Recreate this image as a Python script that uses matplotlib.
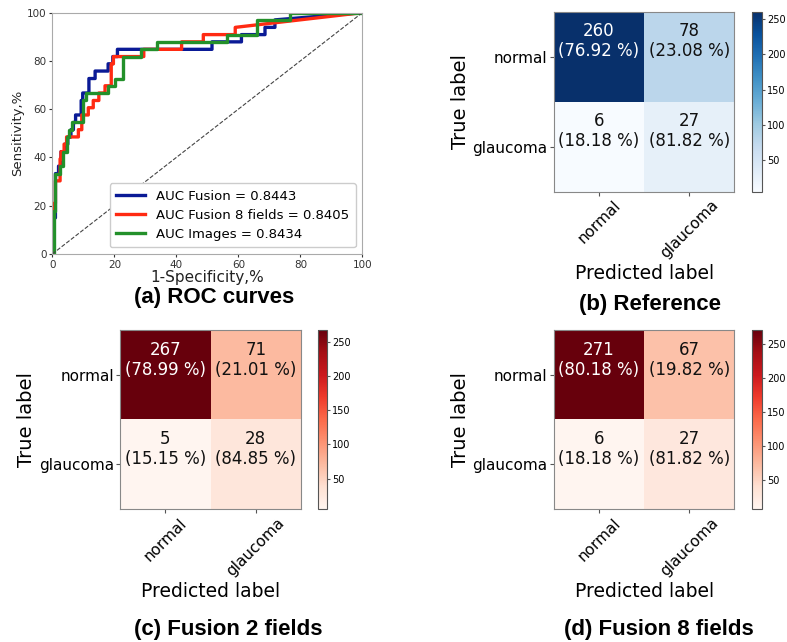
####################################################

# Load modules

import numpy as np
import matplotlib
matplotlib.use("Agg")
from matplotlib import pyplot as plt

####################################################

# ROC data, in %

fpr_fusion = [0, 0.5, 0.5, 1, 1, 2, 2, 2.8, 2.8, 4, 4, 5, 5, 6, 6, 6.8, 6.8, 7.5, 7.5,
              9.3, 9.3, 9.8, 9.8, 11.8, 11.8, 13.8, 13.8, 18, 18, 19.5, 19.5, 21, 21,
              51.5, 51.5, 61, 61, 68.6, 68.6, 71.8, 71.8, 100]
tpr_fusion = [0, 0, 15, 15, 33.3, 33.3, 36.4, 36.4, 42.4, 42.4, 45.5, 45.5, 48.5, 48.5,
              51.5, 51.5, 54.5, 54.5, 57.6, 57.6, 63.6, 63.6, 66.7, 66.7, 72.7, 72.7,
              75.8, 75.8, 78.8, 78.8, 81.8, 81.8, 84.8, 84.8, 87.9, 87.9, 90.9, 90.9,
              93.9, 93.9, 97.0, 100]

fpr_fusion8 = [0, 0.3, 0.3, 0.6, 0.6, 1, 1, 2.5, 2.5, 2.8, 2.8, 3.8, 3.8, 4.6, 4.6, 8.4,
               8.4, 9.5, 9.5, 11.6, 11.6, 13.2, 13.2, 15, 15, 17, 17, 19, 19, 19.7, 19.7,
               29.5, 29.5, 41.7, 41.7, 48.7, 48.7, 59, 59, 100]
tpr_fusion8 = [0, 0, 6, 6, 21, 21, 30.3, 30.3, 39.4, 39.4, 42.4, 42.4, 45.5, 45.5, 48.5,
               48.5, 51.5, 51.5, 57.6, 57.6, 60.6, 60.6, 63.6, 63.6, 66.7, 66.7, 69.7,
               69.7, 78.8, 78.8, 81.8, 81.8, 84.8, 84.8, 87.9, 87.9, 90.9, 90.9, 93.9, 100]

fpr_images = [0, 0.5, 0.5, 1, 1, 2.5, 2.5, 3.5, 3.5, 4.8, 4.8, 5.5, 5.5, 6.5, 6.5, 10, 10,
              10.8, 10.8, 18, 18, 20.3, 20.3, 22.7, 22.7, 28.5, 28.5, 33.7, 33.7, 56.2,
              56.2, 65.9, 65.9, 76.7, 76.7, 100]
tpr_images = [0, 0, 18, 18, 33.3, 33.3, 36.4, 36.4, 42.4, 42.4, 48.5, 48.5, 51.5, 51.5,
              54.5, 54.5, 63.6, 63.6, 66.7, 66.7, 69.7, 69.7, 72.7, 72.7, 81.8, 81.8,
              84.8, 84.8, 87.9, 87.9, 90.9, 90.9, 97.0, 97.0, 100, 100]

auc_labels = ["AUC Fusion = 0.8443", "AUC Fusion 8 fields = 0.8405", "AUC Images = 0.8434"]

# Confusion matrices

classes = ["normal", "glaucoma"]
cm_reference = np.array([[260, 78], [6, 27]])
cm_fusion2 = np.array([[267, 71], [5, 28]])
cm_fusion8 = np.array([[271, 67], [6, 27]])

titles = ["(a) ROC curves", "(b) Reference", "(c) Fusion 2 fields", "(d) Fusion 8 fields"]

####################################################

fig = plt.figure(figsize=(7.87, 6.42), dpi=100)

spine_col = "#888888"

# ROC curves
ax = fig.add_axes([0.0665, 0.6044, 0.3939, 0.3759])
ax.plot(fpr_fusion, tpr_fusion, color="#0a1a96", lw=2.4, label=auc_labels[0])
ax.plot(fpr_fusion8, tpr_fusion8, color="#ff2a12", lw=2.4, label=auc_labels[1])
ax.plot(fpr_images, tpr_images, color="#23902a", lw=2.4, label=auc_labels[2])
ax.plot([0, 100], [0, 100], color="#444444", lw=0.8, ls="--")
ax.set_xlim(0, 100)
ax.set_ylim(0, 100)
ax.set_xticks([0, 20, 40, 60, 80, 100])
ax.set_yticks([0, 20, 40, 60, 80, 100])
ax.tick_params(labelsize=7.5, colors="#333333", length=2.5, pad=1.5)
ax.set_xlabel("1-Specificity,%", fontsize=11, labelpad=0, color="#222222")
ax.set_ylabel("Sensitivity,%", fontsize=9.5, labelpad=2, color="#222222")
for s in ax.spines.values():
    s.set_color("#aaaaaa")
ax.legend(loc="lower right", fontsize=9.5, handlelength=2.2, borderpad=0.5,
          labelspacing=0.45, framealpha=1, edgecolor="#cccccc")

# confusion matrices
def plot_cm(rect, cbar_rect, cm, cmap):
    ax = fig.add_axes(rect)
    im = ax.imshow(cm, cmap=cmap, aspect="auto", vmin=cm.min(), vmax=cm.max())
    ax.set_xticks([0, 1])
    ax.set_yticks([0, 1])
    ax.set_xticklabels(classes, rotation=45, fontsize=11)
    ax.set_yticklabels(classes, fontsize=11)
    ax.tick_params(length=3, color="#555555", pad=1.5)
    ax.set_xlabel("Predicted label", fontsize=13.5, labelpad=2)
    ax.set_ylabel("True label", fontsize=14, labelpad=2)
    for s in ax.spines.values():
        s.set_color(spine_col)
    thresh = cm.max() / 2.0
    for i in range(2):
        pct = cm[i] / cm[i].sum() * 100
        for j in range(2):
            ax.text(j, i - 0.17, "%d\n(%.2f %%)" % (cm[i, j], pct[j]),
                    ha="center", va="center", fontsize=12, linespacing=1.15,
                    color="white" if cm[i, j] > thresh else "#111111")
    cax = fig.add_axes(cbar_rect)
    cb = fig.colorbar(im, cax=cax, ticks=[50, 100, 150, 200, 250])
    cb.ax.tick_params(labelsize=7, length=2, pad=1.5, color="#555555")
    cb.outline.set_edgecolor("#555555")

plot_cm([0.7039, 0.7017, 0.2291, 0.2801], [0.9555, 0.7017, 0.0127, 0.2801],
        cm_reference, "Blues")
plot_cm([0.1525, 0.2067, 0.2300, 0.2793], [0.4041, 0.2067, 0.0114, 0.2793],
        cm_fusion2, "Reds")
plot_cm([0.7039, 0.2067, 0.2291, 0.2793], [0.9555, 0.2067, 0.0127, 0.2793],
        cm_fusion8, "Reds")

# captions
cap_font = dict(fontsize=16, fontweight="bold", family="Liberation Sans",
                ha="center", va="center")
fig.text(0.272, 0.536, titles[0], **cap_font)
fig.text(0.826, 0.525, titles[1], **cap_font)
fig.text(0.290, 0.019, titles[2], **cap_font)
fig.text(0.837, 0.019, titles[3], **cap_font)

fig.savefig("out.png", dpi=100)
